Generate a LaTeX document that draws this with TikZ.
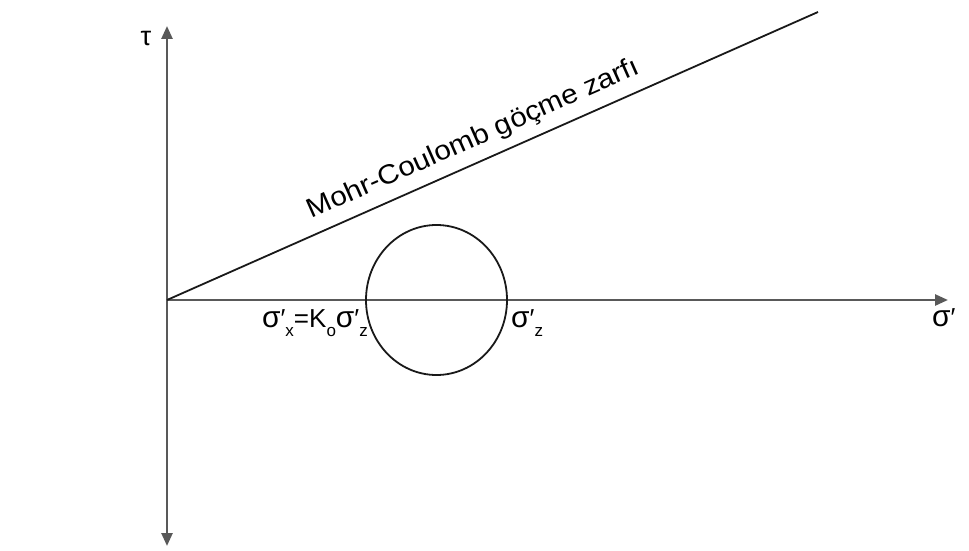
\documentclass[tikz,border=0pt]{standalone}
\usepackage{fontspec}
\setmainfont{Liberation Sans}
\usetikzlibrary{arrows.meta, positioning}

\newcommand{\lowtxt}[1]{\raisebox{-0.36em}{\fontsize{17}{17}\selectfont #1}}
\newcommand{\sgm}{\scalebox{1.15}{σ}}

\begin{document}
\begin{tikzpicture}[x=1pt, y=-1pt,
    axis/.style={draw=black!65, line width=2.6pt, -{Triangle[length=13pt, width=11pt]}},
    thinline/.style={draw=black!90, line width=1.8pt},
    bigtxt/.style={font=\fontsize{27}{30}\selectfont, inner sep=0pt},
    smalltxt/.style={font=\fontsize{26}{28}\selectfont, inner sep=0pt}]
    \useasboundingbox (0,0) rectangle (969,551);

    % Axes
    \coordinate (O) at (167,300);
    \coordinate (tautop) at (167,26);
    \coordinate (taubot) at (167,546);
    \coordinate (sigend) at (948,300);
    \draw[axis] (O) -- (tautop);
    \draw[axis] (O) -- (taubot);
    \draw[axis] (O) -- (sigend);
    \node[bigtxt] (tau) at (146,38) {τ};
    \node[smalltxt, anchor=base west] (sig) at (932,326) {\sgm′};

    % Failure envelope
    \coordinate (envend) at (818,12);
    \draw[thinline] (O) -- (envend)
        node[bigtxt, pos=0.485, sloped, above=9pt] (envlbl) {\scalebox{1.1}[1]{Mohr-Coulomb göçme zarfı}};

    % Mohr circle
    \coordinate (mohrc) at (436.5,300);
    \draw[thinline] (mohrc) ellipse [x radius=70.5, y radius=75];
    \node[smalltxt, anchor=base east] (sx) at (368,327) {\sgm′\lowtxt{x}=K\lowtxt{o}\sgm′\lowtxt{z}};
    \node[smalltxt, anchor=base west] (sz) at (511,327) {\sgm′\lowtxt{z}};
\end{tikzpicture}
\end{document}
